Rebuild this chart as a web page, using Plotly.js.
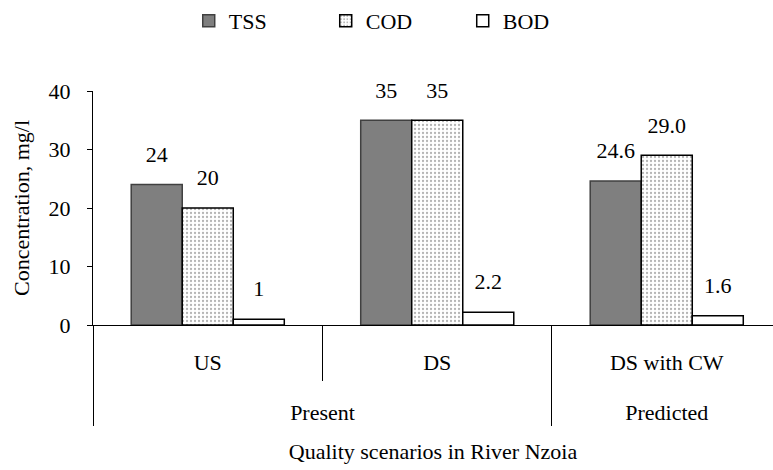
<!DOCTYPE html>
<html><head><meta charset="utf-8">
<script src="https://cdn.plot.ly/plotly-3.0.1.min.js"></script>
<style>html,body{margin:0;padding:0;background:#fff}#chart{width:773px;height:470px}</style>
</head><body><div id="chart"></div>
<script>
const groups = ["Present", "Present", "Predicted"];
const scenarios = ["US", "DS", "DS with CW"];
const tss = [24, 35, 24.6];
const cod = [20, 35, 29.0];
const bod = [1, 2.2, 1.6];
const tssLabels = ["24", "35", "24.6"];
const codLabels = ["20", "35", "29.0"];
const bodLabels = ["1", "2.2", "1.6"];

const FONT = "Liberation Serif";
const FS = 22;
// inner labels get a blank line beneath them to open space before the outer level
const inner = scenarios.map(s => s + "<br><span style='font-size:60px'> </span>");
const X = [groups, inner];

const series = [
  {name: "TSS", y: tss, text: tssLabels,
    marker: {color: "#7f7f7f", line: {color: "#404040", width: 1.5}}},
  {name: "COD", y: cod, text: codLabels,
    marker: {color: "#ffffff", line: {color: "#000", width: 1.5},
      pattern: {shape: ".", size: 4, solidity: 0.25, fgcolor: "#b4b4b4", bgcolor: "#ffffff"}}},
  {name: "BOD", y: bod, text: bodLabels,
    marker: {color: "#ffffff", line: {color: "#000", width: 1.5}}}
];

const traces = series.map(s => ({
  type: "bar", name: s.name, x: X, y: s.y, marker: s.marker, hoverinfo: "skip"
})).concat(series.map(s => ({
  type: "scatter", mode: "markers+text", name: s.name + " label", showlegend: false,
  x: X, y: s.y, text: s.text, textposition: "top center",
  textfont: {family: FONT, size: FS, color: "#000"},
  marker: {size: 26, color: "rgba(0,0,0,0)", line: {width: 0}},
  cliponaxis: false, hoverinfo: "skip"
})));

const layout = {
  width: 773, height: 470,
  margin: {l: 93, r: 0, t: 91, b: 145},
  paper_bgcolor: "#fff", plot_bgcolor: "#fff",
  font: {family: FONT, size: FS, color: "#000"},
  barmode: "group", bargap: 0.333, bargroupgap: 0,
  scattermode: "group", scattergap: 0.333,
  showlegend: true,
  legend: {orientation: "h", xref: "container", yref: "container", x: 0.51, xanchor: "center",
    y: 1, yanchor: "top", entrywidth: 92, font: {family: FONT, size: FS, color: "#000"}, traceorder: "normal"},
  xaxis: {
    type: "multicategory", range: [-0.5, 2.463],
    showline: true, linecolor: "#000", linewidth: 1,
    ticks: "outside", tickson: "boundaries", ticklen: 55, tickcolor: "#000", tickwidth: 1,
    ticklabelstandoff: 18,
    showdividers: true, dividercolor: "#000", dividerwidth: 1,
    showgrid: false, zeroline: false,
    tickfont: {family: FONT, size: FS, color: "#000"},
    title: {text: "Quality scenarios in River Nzoia", font: {family: FONT, size: FS, color: "#000"}, standoff: 19}
  },
  yaxis: {
    range: [0, 40], dtick: 10, tick0: 0,
    showline: true, linecolor: "#000", linewidth: 1,
    ticks: "outside", ticklen: 5, tickcolor: "#000",
    ticklabelstandoff: 12,
    showgrid: false, zeroline: false,
    tickfont: {family: FONT, size: FS, color: "#000"},
    title: {text: "Concentration, mg/l", font: {family: FONT, size: FS, color: "#000"}, standoff: 12}
  }
};

Plotly.newPlot("chart", traces, layout, {displayModeBar: false, staticPlot: true});
</script></body></html>
